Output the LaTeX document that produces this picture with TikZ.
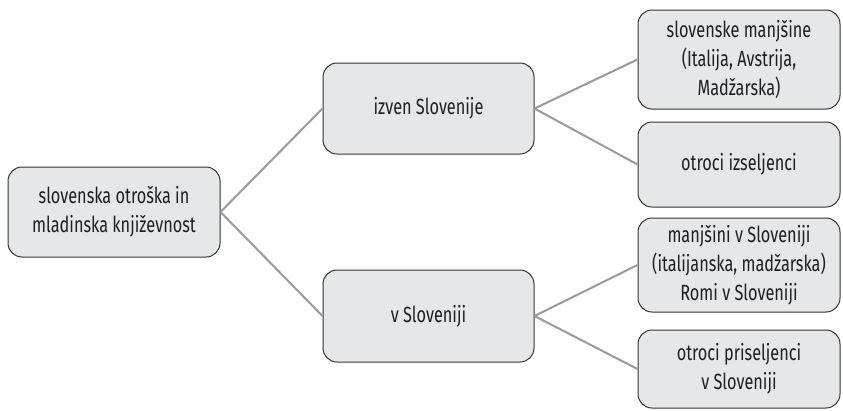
\documentclass[tikz,border=0pt]{standalone}
\usepackage{fontspec}
\setmainfont[FakeStretch=0.74]{Fira Sans}
\begin{document}
\begin{tikzpicture}[x=1pt,y=-1pt,
  box/.style={draw=black!80, line width=1pt, fill=boxfill, rounded corners=14pt,
    align=center, inner sep=0pt, font=\fontsize{22}{29}\selectfont, text=black!88},
  link/.style={draw=linkgray, line width=2pt}]
\definecolor{boxfill}{HTML}{E6E7E8}
\definecolor{linkgray}{HTML}{9A9A9A}
\useasboundingbox (0,0) rectangle (843,410);
\node[box, minimum width=212pt, minimum height=90pt] (root) at (114,212) {slovenska otroška in\\mladinska književnost};
\node[box, minimum width=211pt, minimum height=91pt] (izven) at (428.5,108.5) {izven Slovenije};
\node[box, minimum width=211pt, minimum height=92pt] (vslo) at (428.5,316) {v Sloveniji};
\node[box, minimum width=202pt, minimum height=99pt] (manj) at (739,59.5) {slovenske manjšine\\(Italija, Avstrija,\\Madžarska)};
\node[box, minimum width=202pt, minimum height=85pt] (izs) at (739,164.5) {otroci izseljenci};
\node[box, minimum width=202pt, minimum height=94pt] (manjslo) at (739,265) {manjšini v Sloveniji\\(italijanska, madžarska)\\Romi v Sloveniji};
\node[box, minimum width=202pt, minimum height=78pt] (pris) at (739,369) {otroci priseljenci\\v Sloveniji};
\draw[link] (root.east) -- (izven.west);
\draw[link] (root.east) -- (vslo.west);
\draw[link] (izven.east) -- (manj.west);
\draw[link] (izven.east) -- (izs.west);
\draw[link] (vslo.east) -- (manjslo.west);
\draw[link] (vslo.east) -- (pris.west);
\end{tikzpicture}
\end{document}
